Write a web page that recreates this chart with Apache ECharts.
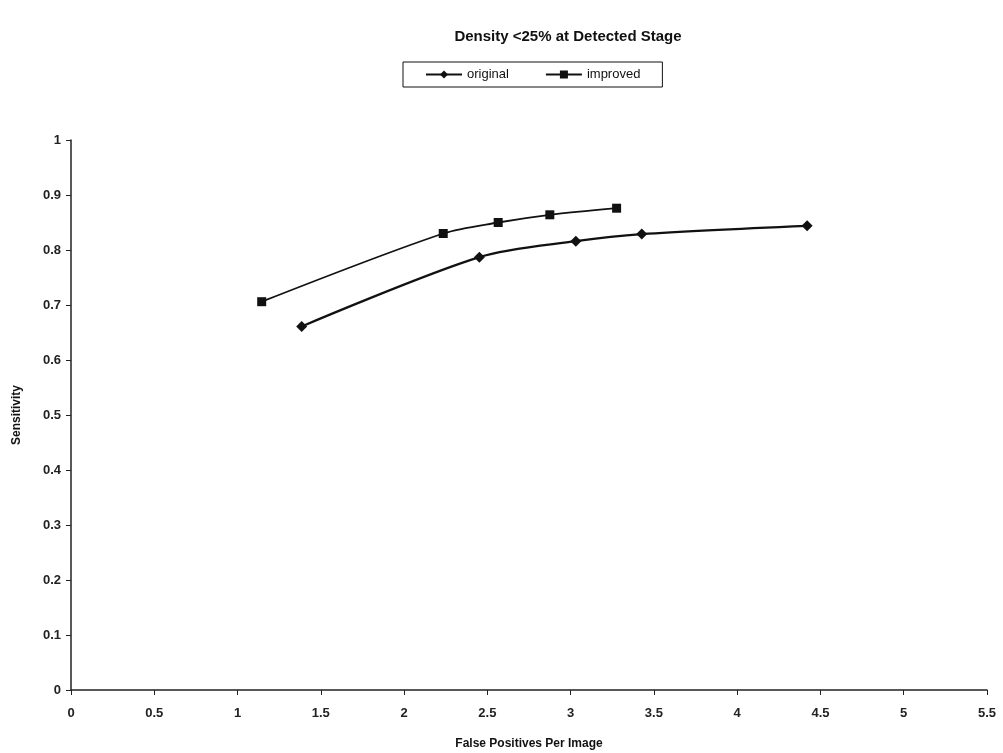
<!DOCTYPE html>
<html><head><meta charset="utf-8">
<script src="https://cdn.jsdelivr.net/npm/echarts@6/dist/echarts.min.js"></script>
<style>html,body{margin:0;padding:0;background:#fff}#c{width:1003px;height:753px}</style>
</head><body><div id="c"></div>
<script>
const titleText = "Density <25% at Detected Stage";
const xName = "False Positives Per Image";
const yName = "Sensitivity";
const originalX = [1.385, 2.452, 3.031, 3.427, 4.42];
const originalY = [0.661, 0.787, 0.816, 0.829, 0.844];
const improvedX = [1.145, 2.235, 2.565, 2.875, 3.276];
const improvedY = [0.706, 0.830, 0.850, 0.864, 0.876];

const pairs = (xs, ys) => xs.map((x, i) => [x, ys[i]]);
const font = "Liberation Sans, Arial, sans-serif";
const chart = echarts.init(document.getElementById('c'), null, {renderer: 'canvas'});
chart.setOption({
  animation: false,
  backgroundColor: '#fff',
  title: {text: titleText, left: 563, top: 24, textAlign: 'center',
    textStyle: {fontFamily: font, fontSize: 15, fontWeight: 'bold', color: '#111'}},
  legend: {
    left: 403, top: 62, padding: [6, 22, 6, 22], borderColor: '#111', borderWidth: 1,
    itemWidth: 36, itemHeight: 10, itemGap: 36,
    textStyle: {fontFamily: font, fontSize: 13, color: '#111'},
    data: ['original', 'improved']
  },
  grid: {left: 71, right: 16, top: 140, bottom: 63, containLabel: false, outerBoundsMode: 'none'},
  xAxis: {
    type: 'value', min: 0, max: 5.5, interval: 0.5,
    name: xName, nameLocation: 'middle', nameGap: 48,
    nameTextStyle: {fontFamily: font, fontSize: 12, fontWeight: 'bold', color: '#111'},
    axisLine: {lineStyle: {color: '#222', width: 1.5}},
    axisTick: {inside: false, length: 5, lineStyle: {color: '#222'}},
    axisLabel: {fontFamily: font, fontSize: 13, fontWeight: 'bold', color: '#222', margin: 17,
      formatter: v => String(v)},
    splitLine: {show: false}
  },
  yAxis: {
    type: 'value', min: 0, max: 1, interval: 0.1,
    name: yName, nameLocation: 'middle', nameGap: 48, nameRotate: 90,
    nameTextStyle: {fontFamily: font, fontSize: 12, fontWeight: 'bold', color: '#111'},
    axisLine: {show: true, lineStyle: {color: '#222', width: 1.5}},
    axisTick: {show: true, length: 5, lineStyle: {color: '#222'}},
    axisLabel: {fontFamily: font, fontSize: 13, fontWeight: 'bold', color: '#222', margin: 10,
      formatter: v => String(Math.round(v * 10) / 10)},
    splitLine: {show: false}
  },
  series: [
    {name: 'original', type: 'line', data: pairs(originalX, originalY), smooth: 0.3,
      symbol: 'diamond', symbolSize: 11, color: '#111',
      lineStyle: {width: 2.2, color: '#111'}, itemStyle: {color: '#111'}},
    {name: 'improved', type: 'line', data: pairs(improvedX, improvedY), smooth: 0.3,
      symbol: 'rect', symbolSize: 9, color: '#111',
      lineStyle: {width: 1.8, color: '#111'}, itemStyle: {color: '#111'}}
  ]
});
</script></body></html>
